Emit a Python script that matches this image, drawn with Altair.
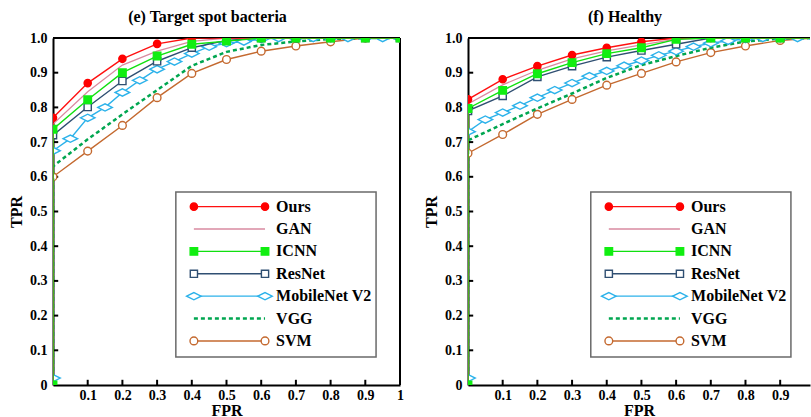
import altair as alt
import pandas as pd

# ---------------- data ----------------
SERIES = ["Ours", "GAN", "ICNN", "ResNet", "MobileNet V2", "VGG", "SVM"]

FPR = [0.0, 0.0, 0.1, 0.2, 0.3, 0.4, 0.5, 0.6, 0.7, 0.8, 0.9, 1.0]
FPR_MOBILE = [0.0, 0.0, 0.05, 0.1, 0.15, 0.2, 0.25, 0.3, 0.35, 0.4, 0.45, 0.5,
              0.55, 0.6, 0.65, 0.7, 0.75, 0.8, 0.85, 0.9, 0.95, 1.0]

# (e) Target spot bacteria
E_OURS = [0.0, 0.770, 0.870, 0.940, 0.983, 1.0, 1.0, 1.0, 1.0, 1.0, 1.0, 1.0]
E_GAN = [0.0, 0.752, 0.845, 0.922, 0.962, 0.990, 1.0, 1.0, 1.0, 1.0, 1.0, 1.0]
E_ICNN = [0.0, 0.737, 0.822, 0.900, 0.948, 0.982, 0.991, 1.0, 1.0, 1.0, 1.0, 1.0]
E_RESNET = [0.0, 0.720, 0.801, 0.876, 0.933, 0.972, 0.993, 1.0, 1.0, 1.0, 1.0, 1.0]
E_MOBILE = [0.02, 0.675, 0.710, 0.770, 0.800, 0.843, 0.878, 0.910, 0.932, 0.955,
            0.975, 0.985, 0.990, 0.997, 1.0, 1.0, 1.0, 1.0, 1.0, 1.0, 1.0, 1.0]
E_VGG = [0.0, 0.630, 0.708, 0.780, 0.850, 0.920, 0.960, 0.980, 0.990, 0.997, 1.0, 1.0]
E_SVM = [0.0, 0.600, 0.674, 0.748, 0.828, 0.898, 0.938, 0.962, 0.977, 0.989, 1.0, 1.0]

# (f) Healthy
F_OURS = [0.0, 0.823, 0.881, 0.919, 0.951, 0.972, 0.989, 1.0, 1.0, 1.0, 1.0, 1.0]
F_GAN = [0.0, 0.810, 0.865, 0.907, 0.940, 0.963, 0.980, 0.997, 1.0, 1.0, 1.0, 1.0]
F_ICNN = [0.0, 0.797, 0.849, 0.897, 0.929, 0.955, 0.972, 0.996, 1.0, 1.0, 1.0, 1.0]
F_RESNET = [0.0, 0.790, 0.833, 0.888, 0.919, 0.945, 0.964, 0.982, 1.0, 1.0, 1.0, 1.0]
F_MOBILE = [0.02, 0.730, 0.765, 0.785, 0.805, 0.828, 0.850, 0.870, 0.890, 0.905,
            0.920, 0.935, 0.950, 0.962, 0.975, 0.985, 0.992, 0.997, 1.0, 1.0, 1.0, 1.0]
F_VGG = [0.0, 0.705, 0.752, 0.797, 0.840, 0.885, 0.922, 0.948, 0.972, 0.990, 0.998, 1.0]
F_SVM = [0.0, 0.668, 0.722, 0.780, 0.823, 0.864, 0.898, 0.931, 0.958, 0.977, 0.993, 1.0]

X_TICKS = [0.1, 0.2, 0.3, 0.4, 0.5, 0.6, 0.7, 0.8, 0.9, 1.0]
Y_TICKS = [0.0, 0.1, 0.2, 0.3, 0.4, 0.5, 0.6, 0.7, 0.8, 0.9, 1.0]

# ---------------- style / layout ----------------
FONT = "Liberation Serif"
WIDE_DIAMOND = "M-1,0L0,-0.5L1,0L0,0.5Z"
STYLE = {
    "Ours": dict(color="#ff1010", shape="circle", fill="#ff0000", stroke="#ff0000", size=52, width=1.4, dash=None),
    "GAN": dict(color="#d98aa0", shape=None, width=1.3, dash=None),
    "ICNN": dict(color="#10e010", shape="square", fill="#11ee11", stroke="#11ee11", size=56, width=1.4, dash=None),
    "ResNet": dict(color="#2f4f72", shape="square", fill="white", stroke="#2f4f72", size=52, width=1.4, dash=None),
    "MobileNet V2": dict(color="#2cb2ea", shape=WIDE_DIAMOND, fill="white", stroke="#2cb2ea", size=210, width=1.4, dash=None),
    "VGG": dict(color="#00a650", shape=None, width=2.5, dash=[4, 3]),
    "SVM": dict(color="#c4692f", shape="circle", fill="white", stroke="#c4692f", size=60, width=1.4, dash=None),
}
DRAW_ORDER = ["SVM", "VGG", "MobileNet V2", "ResNet", "GAN", "Ours", "ICNN"]
LEG_ROWS = [0.514, 0.4495, 0.385, 0.3205, 0.256, 0.1915, 0.127]
LEG_X0, LEG_X1, LEG_TX = 0.406, 0.611, 0.643
LEG_BOX = dict(fpr=[0.354], fpr2=[0.931], tpr=[0.556], tpr2=[0.081])
TICK_LEN = 0.015
PLOT_H = 347


def long_df(vals):
    rows = []
    for s in SERIES:
        xs = FPR_MOBILE if s == "MobileNet V2" else FPR
        for i, (x, y) in enumerate(zip(xs, vals[s])):
            rows.append({"series": s, "idx": i, "fpr": x, "tpr": y})
    return pd.DataFrame(rows)


def legend_df():
    rows = []
    for s, r in zip(SERIES, LEG_ROWS):
        rows.append({"series": s, "idx": 0, "fpr": LEG_X0, "tpr": r})
        rows.append({"series": s, "idx": 1, "fpr": LEG_X1, "tpr": r})
    return pd.DataFrame(rows)


def panel(vals, title, width, xmax, right_border, title_dx):
    X = alt.X("fpr:Q", scale=alt.Scale(domain=[0, xmax], nice=False, zero=False),
              axis=alt.Axis(values=[v for v in X_TICKS if v <= xmax], title="FPR",
                            labelExpr="datum.value == 1 ? '1' : format(datum.value, '.1f')"))
    Y = alt.Y("tpr:Q", scale=alt.Scale(domain=[0, 1], nice=False, zero=False),
              axis=alt.Axis(values=Y_TICKS, title="TPR",
                            labelExpr="datum.value == 0 ? '0' : format(datum.value, '.1f')"))
    data = long_df(vals)
    leg = legend_df()
    layers = []
    # frame
    layers.append(alt.Chart(pd.DataFrame({"tpr": [1.0]})).mark_rule(color="black", strokeWidth=2).encode(y=Y))
    if right_border:
        layers.append(alt.Chart(pd.DataFrame({"fpr": [1.0]})).mark_rule(color="black", strokeWidth=2).encode(x=X))
    # inward ticks
    yt = pd.DataFrame({"tpr": Y_TICKS[1:-1]})
    yt["fpr"] = 0.0
    yt["fpr2"] = TICK_LEN
    layers.append(alt.Chart(yt).mark_rule(color="black", strokeWidth=2).encode(y=Y, x=X, x2="fpr2"))
    xt = pd.DataFrame({"fpr": [v for v in X_TICKS if v <= xmax]})
    xt["tpr"] = 0.0
    xt["tpr2"] = TICK_LEN
    layers.append(alt.Chart(xt).mark_rule(color="black", strokeWidth=2).encode(x=X, y=Y, y2="tpr2"))

    def series_layers(df, s, clip, curve):
        st = STYLE[s]
        base = alt.Chart(df).transform_filter(alt.datum.series == s)
        kw = dict(color=st["color"], strokeWidth=st["width"], clip=clip)
        if st["dash"]:
            kw["strokeDash"] = st["dash"]
        out = [base.mark_line(**kw).encode(x=X, y=Y, order=alt.Order("idx:Q"))]
        if st["shape"]:
            pts = base
            if curve and s != "ICNN":
                pts = pts.transform_filter(alt.datum.tpr > 0)
            out.append(pts.mark_point(shape=st["shape"], filled=True, fill=st["fill"],
                                      stroke=st["stroke"], strokeWidth=1.4, size=st["size"],
                                      opacity=1, clip=clip).encode(x=X, y=Y))
        return out

    for s in DRAW_ORDER:
        layers += series_layers(data, s, True, True)
    # legend
    layers.append(alt.Chart(pd.DataFrame(LEG_BOX)).mark_rect(fill="white", stroke="#6a6a6a", strokeWidth=1.5)
                  .encode(x=X, x2="fpr2", y=Y, y2="tpr2"))
    for s in SERIES:
        layers += series_layers(leg, s, False, False)
    layers.append(alt.Chart(leg[leg["idx"] == 0].assign(fpr=LEG_TX))
                  .mark_text(align="left", baseline="middle", font=FONT, fontSize=16,
                             fontWeight="bold", color="black")
                  .encode(x=X, y=Y, text="series:N"))
    return alt.layer(*layers).properties(
        width=width, height=PLOT_H,
        title=alt.TitleParams(title, font=FONT, fontSize=16, fontWeight="bold", color="black",
                              offset=6, frame="group", dx=title_dx))


E_VALS = {"Ours": E_OURS, "GAN": E_GAN, "ICNN": E_ICNN, "ResNet": E_RESNET,
          "MobileNet V2": E_MOBILE, "VGG": E_VGG, "SVM": E_SVM}
F_VALS = {"Ours": F_OURS, "GAN": F_GAN, "ICNN": F_ICNN, "ResNet": F_RESNET,
          "MobileNet V2": F_MOBILE, "VGG": F_VGG, "SVM": F_SVM}

left = panel(E_VALS, "(e) Target spot bacteria", 347, 1.0, True, -19)
right = panel(F_VALS, "(f) Healthy", 342, 0.986, False, -14)

chart = (
    alt.hconcat(left, right, spacing=19)
    .properties(padding={"left": 8, "top": 9, "right": 0, "bottom": 0})
    .configure_view(stroke=None)
    .configure_axis(domainColor="black", domainWidth=2, ticks=False, grid=False,
                    labelFont=FONT, labelFontSize=14, labelFontWeight="bold", labelColor="black",
                    titleFont=FONT, titleFontSize=16, titleFontWeight="bold", titleColor="black",
                    labelPadding=6, labelFlush=False, labelOverlap=False)
    .configure_axisY(titlePadding=5)
    .configure_axisX(titlePadding=0, labelPadding=3)
)

chart.save("out.html", embed_options={"renderer": "svg", "actions": False})
